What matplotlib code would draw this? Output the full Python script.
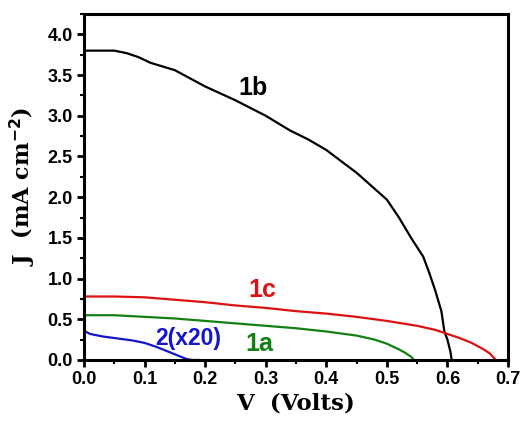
import numpy as np
import matplotlib
matplotlib.use('Agg')
import matplotlib.pyplot as plt
from matplotlib.ticker import MultipleLocator

# J-V curves
v_1b = [0.0, 0.05, 0.07, 0.09, 0.11, 0.15, 0.20, 0.25, 0.30, 0.34, 0.37, 0.40, 0.45, 0.50,
        0.52, 0.54, 0.56, 0.57, 0.58, 0.59, 0.595, 0.60, 0.605, 0.607]
j_1b = [3.80, 3.80, 3.77, 3.72, 3.65, 3.56, 3.36, 3.19, 3.00, 2.82, 2.71, 2.58, 2.30, 1.97,
        1.75, 1.50, 1.27, 1.07, 0.85, 0.60, 0.35, 0.25, 0.10, 0.0]

v_1c = [0.0, 0.05, 0.10, 0.15, 0.20, 0.25, 0.30, 0.35, 0.40, 0.45, 0.50, 0.55, 0.58,
        0.60, 0.62, 0.64, 0.66, 0.67, 0.675, 0.68]
j_1c = [0.78, 0.78, 0.77, 0.74, 0.71, 0.67, 0.64, 0.60, 0.57, 0.53, 0.48, 0.42, 0.37,
        0.32, 0.27, 0.21, 0.13, 0.08, 0.04, 0.0]

v_1a = [0.0, 0.05, 0.10, 0.15, 0.20, 0.25, 0.30, 0.35, 0.40, 0.45, 0.48, 0.50, 0.52,
        0.53, 0.54, 0.545]
j_1a = [0.55, 0.55, 0.53, 0.51, 0.48, 0.45, 0.42, 0.39, 0.35, 0.30, 0.25, 0.20, 0.13,
        0.09, 0.04, 0.0]

v_2 = [0.0, 0.01, 0.03, 0.05, 0.08, 0.10, 0.12, 0.14, 0.16, 0.17, 0.18, 0.19]
j_2 = [0.36, 0.32, 0.29, 0.27, 0.24, 0.21, 0.16, 0.10, 0.04, 0.01, 0.0, 0.0]

labels = ['1b', '1c', '2(x20)', '1a']
label_pos = [(0.279, 3.34), (0.294, 0.86), (0.172, 0.27), (0.29, 0.20)]
label_col = ['black', '#dd1111', '#1515cc', '#128012']

fig = plt.figure(figsize=(5.26, 4.25), dpi=100)
ax = fig.add_axes([84/526, 65/425, (508-84)/526, (360-14)/425])

lw = 1.6
ax.plot(v_1b, j_1b, color='black', lw=lw)
ax.plot(v_1c, j_1c, color='#dd1111', lw=lw)
ax.plot(v_1a, j_1a, color='#128012', lw=lw)
ax.plot(v_2, j_2, color='#1515cc', lw=lw)

for t, (x, y), c in zip(labels, label_pos, label_col):
    fs = 16.5 if t.startswith('2') else 18
    ax.text(x, y, t, color=c, fontsize=fs, fontweight='bold', ha='center', va='center',
            family='Liberation Sans')

ax.set_xlim(0, 0.7)
ax.set_ylim(0, 4.25)
ax.xaxis.set_major_locator(MultipleLocator(0.1))
ax.xaxis.set_minor_locator(MultipleLocator(0.05))
ax.yaxis.set_major_locator(MultipleLocator(0.5))
ax.yaxis.set_minor_locator(MultipleLocator(0.25))
ax.tick_params(which='major', direction='out', length=5, width=2, labelsize=13, pad=3)
ax.tick_params(which='minor', direction='out', length=3, width=1.5)
for lab in ax.get_xticklabels() + ax.get_yticklabels():
    lab.set_fontweight('bold')
    lab.set_family('Liberation Sans')
for s in ax.spines.values():
    s.set_linewidth(2.2)

ax.set_xlabel('V  (Volts)', fontsize=16.5, fontweight='bold', family='DejaVu Serif', labelpad=3)
ax.set_ylabel(r'J  (mA cm$^{\mathbf{-2}}$)', fontsize=16, fontweight='bold', family='DejaVu Serif', labelpad=7)

fig.savefig('out.png', dpi=100)
